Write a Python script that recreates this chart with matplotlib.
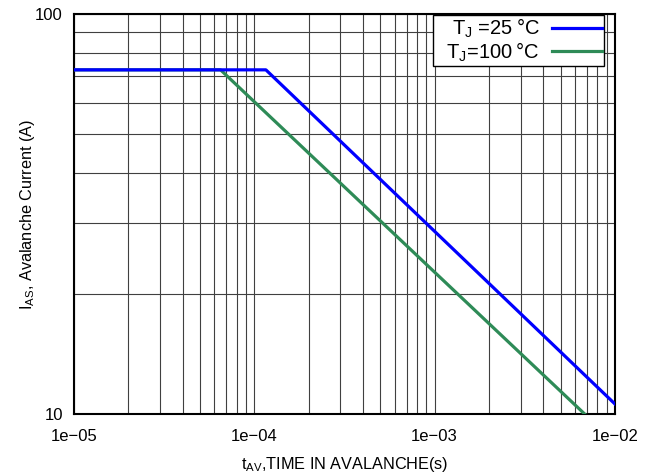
import matplotlib
matplotlib.use("Agg")
import matplotlib.pyplot as plt
from matplotlib.ticker import FixedLocator, FixedFormatter, NullFormatter

plt.rcParams['font.family'] = ['Liberation Sans', 'DejaVu Sans']

# avalanche current vs time
t_25 = [1e-5, 1.16e-4, 1e-2]
i_25 = [72.5, 72.5, 10.6]
t_100 = [1e-5, 6.5e-5, 6.8e-3]
i_100 = [72.5, 72.5, 10.0]

x_ticks = [1e-5, 1e-4, 1e-3, 1e-2]
x_labels = ["1e\u221205", "1e\u221204", "1e\u221203", "1e\u221202"]
y_ticks = [10, 100]
y_labels = ["10", "100"]

fig = plt.figure(figsize=(6.52, 4.74), dpi=100)
ax = fig.add_axes([0.1135, 0.1266, 0.8295, 0.8439])

l100, = ax.plot(t_100, i_100, color='#2e8b57', lw=2.3,
                label="  T$_\\mathregular{J}$=100\u2009\u00b0C", zorder=3)
l25, = ax.plot(t_25, i_25, color='#0000ff', lw=2.3,
               label="  T$_\\mathregular{J}$ =25\u2009\u00b0C", zorder=4)

ax.set_xscale('log')
ax.set_yscale('log')
ax.set_xlim(1e-5, 1e-2)
ax.set_ylim(10, 100)

ax.xaxis.set_major_locator(FixedLocator(x_ticks))
ax.xaxis.set_major_formatter(FixedFormatter(x_labels))
ax.xaxis.set_minor_formatter(NullFormatter())
ax.yaxis.set_major_locator(FixedLocator(y_ticks))
ax.yaxis.set_major_formatter(FixedFormatter(y_labels))
ax.yaxis.set_minor_formatter(NullFormatter())
ax.tick_params(which='both', length=0, labelsize=12)
ax.tick_params(axis='x', pad=11)
ax.tick_params(axis='y', pad=8)

ax.grid(True, which='both', color='0.25', lw=0.8)
ax.set_axisbelow(True)
for s in ax.spines.values():
    s.set_linewidth(1.5)

ax.set_xlabel("t$_\\mathregular{AV}$,TIME IN AVALANCHE(s)", fontsize=11.7, labelpad=8)
ax.set_ylabel("I$_\\mathregular{AS}$, Avalanche Current (A)", fontsize=11.7, labelpad=-1)

leg = ax.legend(handles=[l25, l100], loc='upper right', bbox_to_anchor=(0.98, 0.997),
                fontsize=14.5, markerfirst=False, fancybox=False,
                framealpha=1, edgecolor='black', borderpad=0.1, labelspacing=0.0,
                handlelength=2.5, handletextpad=0.6, borderaxespad=0)
leg.get_frame().set_linewidth(1.0)

fig.savefig("out.png", dpi=100)
